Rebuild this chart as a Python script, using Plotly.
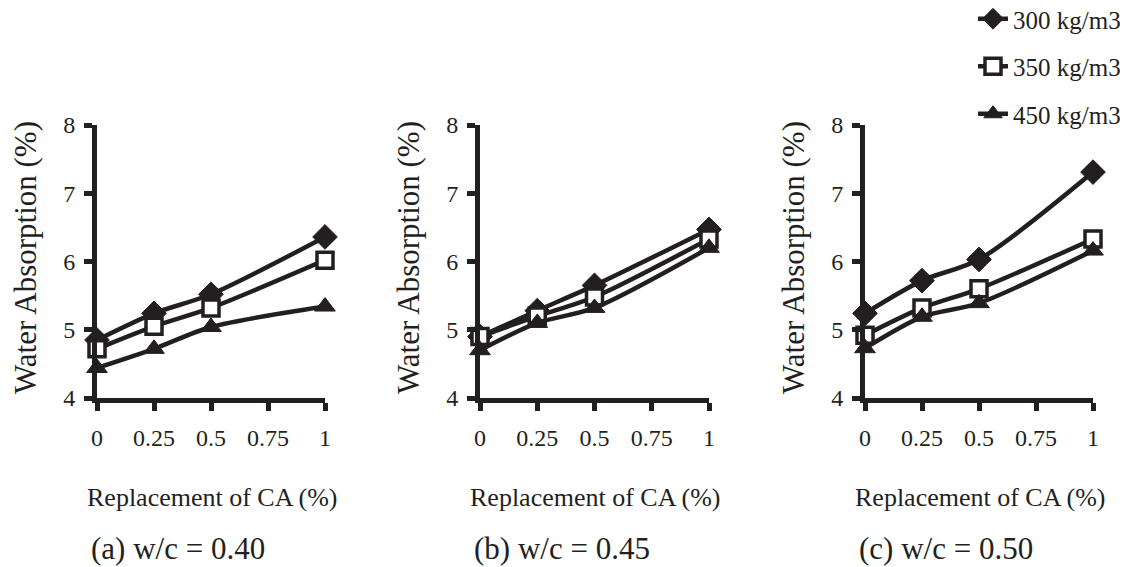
import plotly.graph_objects as go

x_vals = [0, 0.25, 0.5, 1]
tick_vals = [0, 0.25, 0.5, 0.75, 1]
tick_text = ["0", "0.25", "0.5", "0.75", "1"]

series_names = ["300 kg/m3", "350 kg/m3", "450 kg/m3"]

# panel (a) w/c = 0.40
a_300 = [4.85, 5.24, 5.52, 6.36]
a_350 = [4.72, 5.05, 5.32, 6.02]
a_450 = [4.44, 4.72, 5.04, 5.34]
# panel (b) w/c = 0.45
b_300 = [4.9, 5.28, 5.65, 6.47]
b_350 = [4.9, 5.2, 5.48, 6.33]
b_450 = [4.7, 5.1, 5.32, 6.2]
# panel (c) w/c = 0.50
c_300 = [5.24, 5.72, 6.03, 7.31]
c_350 = [4.92, 5.32, 5.6, 6.33]
c_450 = [4.73, 5.19, 5.39, 6.16]

captions = ["(a) w/c = 0.40", "(b) w/c = 0.45", "(c) w/c = 0.50"]
panels = [[a_300, a_350, a_450], [b_300, b_350, b_450], [c_300, c_350, c_450]]

INK = "#231f20"
FONT = "Liberation Serif, Tinos, Times New Roman, DejaVu Serif, serif"

# page has an 8px body margin: figure drawn at (8, 8)
OFF = 8
W, H = 1128 - OFF, 567 - OFF


def px(x):
    return (x - OFF) / W


def py(y):
    return 1 - (y - OFF) / H


markers = [
    dict(symbol="diamond", size=19, color=INK, line=dict(color=INK, width=1)),
    dict(symbol="square", size=16, color="white", line=dict(color=INK, width=3.5)),
    dict(symbol="triangle-up", size=18, color=INK, line=dict(color=INK, width=1)),
]

x_pix = [(97, 325), (480, 709), (865, 1093)]
x_domains = [[px(a), px(b)] for a, b in x_pix]
y_domain = [py(398), py(125)]

fig = go.Figure()
for p, series in enumerate(panels):
    xa = "x" if p == 0 else f"x{p+1}"
    ya = "y" if p == 0 else f"y{p+1}"
    for s, vals in enumerate(series):
        fig.add_trace(go.Scatter(
            x=x_vals, y=vals, xaxis=xa, yaxis=ya,
            mode="lines+markers", name=series_names[s],
            legendgroup=series_names[s], showlegend=(p == 2),
            line=dict(color=INK, width=4.5, shape="spline", smoothing=0.8),
            marker=markers[s], cliponaxis=False,
        ))

axis_common = dict(showline=True, linewidth=5, linecolor=INK, showgrid=False,
                   zeroline=False, ticks="outside", ticklen=8, tickwidth=5,
                   tickcolor=INK, automargin=False,
                   tickfont=dict(family=FONT, size=24, color=INK))

layout = dict(
    width=W, height=H,
    margin=dict(l=0, r=0, t=0, b=0, autoexpand=False),
    paper_bgcolor="white", plot_bgcolor="white",
    showlegend=True,
    legend=dict(x=px(1126), y=py(-4), xanchor="right", yanchor="top",
                font=dict(family=FONT, size=25, color=INK),
                tracegroupgap=12, traceorder="grouped",
                bgcolor="rgba(0,0,0,0)"),
    font=dict(family=FONT, color=INK),
)
annotations = []
for p in range(3):
    xk = "xaxis" if p == 0 else f"xaxis{p+1}"
    yk = "yaxis" if p == 0 else f"yaxis{p+1}"
    ya = "y" if p == 0 else f"y{p+1}"
    xa = "x" if p == 0 else f"x{p+1}"
    layout[xk] = dict(axis_common, domain=x_domains[p], anchor=ya, range=[0, 1],
                      tickvals=tick_vals, ticktext=tick_text, ticklabelstandoff=6)
    layout[yk] = dict(axis_common, domain=y_domain, anchor=xa, range=[4, 8],
                      tickvals=[4, 5, 6, 7, 8], ticklabelstandoff=4)
    left, right = x_pix[p]
    annotations.append(dict(text="Water Absorption (%)", xref="paper", yref="paper",
                            x=px(left - 72), y=py(258),
                            textangle=-90, showarrow=False, xanchor="center", yanchor="middle",
                            font=dict(family=FONT, size=31, color=INK)))
    annotations.append(dict(text="Replacement of CA (%)", xref="paper", yref="paper",
                            x=px((left + right) / 2 + 1), y=py(497),
                            showarrow=False, xanchor="center", yanchor="middle",
                            font=dict(family=FONT, size=26, color=INK)))
    annotations.append(dict(text=captions[p], xref="paper", yref="paper",
                            x=px(left - 8), y=py(548),
                            showarrow=False, xanchor="left", yanchor="middle",
                            font=dict(family=FONT, size=31, color=INK)))
layout["annotations"] = annotations
fig.update_layout(**layout)
fig.write_html("out.html")
